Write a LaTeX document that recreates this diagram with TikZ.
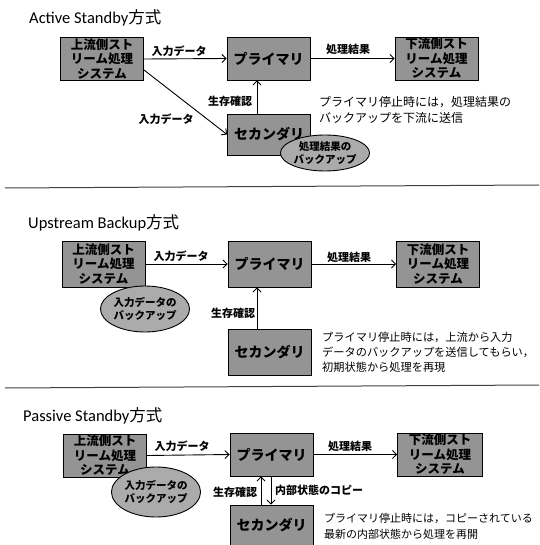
\documentclass[tikz,border=0pt]{standalone}
\usepackage{fontspec}
\setmainfont{Carlito}
\newfontfamily\jp{Noto Sans CJK JP}
\usetikzlibrary{arrows.meta,shapes.geometric}
\begin{document}
\begin{tikzpicture}[x=1pt,y=-1pt,
  box/.style={draw=black,line width=0.9pt,fill=black!42,inner sep=0pt,align=center,
    minimum width=83pt,minimum height=43pt,font=\jp\bfseries\fontsize{12.5}{14.5}\selectfont},
  pbox/.style={box,font=\jp\bfseries\fontsize{14}{16}\selectfont},
  bk/.style={draw=black,line width=0.9pt,fill=black!33,ellipse,inner sep=0pt,align=center,
    font=\jp\bfseries\fontsize{10.5}{13}\selectfont},
  lbl/.style={font=\jp\bfseries\fontsize{11}{13}\selectfont,inner sep=0pt},
  note/.style={inner sep=0pt,align=left,anchor=west},
  ttl/.style={font=\fontsize{16.5}{19}\selectfont,inner sep=0pt,anchor=west},
  arr/.style={line width=0.9pt,-{Straight Barb[length=4pt,width=8pt]}},
  sep/.style={line width=1pt,draw=black!75}]
\useasboundingbox (0,0) rectangle (539,545);

% ---------- Active Standby ----------
\node[ttl] (t1) at (29,18) {Active Standby{\jp 方式}};
\node[box] (up1) at (102,59) {上流側スト\\リーム処理\\システム};
\node[pbox] (pr1) at (268.5,58.5) {プライマリ};
\node[box] (dn1) at (436.5,58.5) {下流側スト\\リーム処理\\システム};
\node[pbox,minimum height=41pt] (se1) at (269,134.5) {セカンダリ};
\node[bk,minimum width=84pt,minimum height=36pt] (e1) at (325,153) {処理結果の\\バックアップ};
\draw[arr] (up1.east) -- (pr1.west);
\draw[arr] ([yshift=-11pt]up1.east) -- (se1.west);
\draw[arr] ([xshift=-12pt]se1.north) -- ([xshift=-11.5pt]pr1.south);
\draw[arr] (pr1.east) -- (dn1.west);
\node[lbl] (l11) at (179,51) {入力データ};
\node[lbl] (l12) at (166,119) {入力データ};
\node[lbl] (l13) at (230,101) {生存確認};
\node[lbl] (l14) at (348,49) {処理結果};
\node[note,font=\jp\fontsize{12}{16}\selectfont] (n1) at (319,110) {プライマリ停止時には，処理結果の\\バックアップを下流に送信};

\coordinate (s1a) at (5,188);
\coordinate (s1b) at (539,185);
\draw[sep] (s1a) -- (s1b);

% ---------- Upstream Backup ----------
\node[ttl] (t2) at (28,223) {Upstream Backup{\jp 方式}};
\node[box,minimum height=46pt] (up2) at (103.5,264) {上流側スト\\リーム処理\\システム};
\node[pbox,minimum height=46pt] (pr2) at (269.5,264) {プライマリ};
\node[box,minimum height=46pt] (dn2) at (438,264) {下流側スト\\リーム処理\\システム};
\node[pbox,minimum height=46pt] (se2) at (269.5,352) {セカンダリ};
\node[bk,minimum width=80pt,minimum height=46pt] (e2) at (145,309) {入力データの\\バックアップ};
\draw[arr] (up2.east) -- (pr2.west);
\draw[arr] ([xshift=-12.5pt]se2.north) -- ([xshift=-12.5pt]pr2.south);
\draw[arr] (pr2.east) -- (dn2.west);
\node[lbl] (l21) at (181,256) {入力データ};
\node[lbl] (l22) at (233,313) {生存確認};
\node[lbl] (l23) at (349,257) {処理結果};
\node[note,font=\jp\fontsize{11.2}{15}\selectfont] (n2) at (322,352) {プライマリ停止時には，上流から入力\\データのバックアップを送信してもらい，\\初期状態から処理を再現};

\coordinate (s2a) at (5,388);
\coordinate (s2b) at (539,385);
\draw[sep] (s2a) -- (s2b);

% ---------- Passive Standby ----------
\node[ttl] (t3) at (23,416) {Passive Standby{\jp 方式}};
\node[box] (up3) at (105,455.5) {上流側スト\\リーム処理\\システム};
\node[pbox] (pr3) at (271.5,454.5) {プライマリ};
\node[box,minimum width=85pt] (dn3) at (440,454.5) {下流側スト\\リーム処理\\システム};
\node[pbox,minimum height=40pt] (se3) at (271.5,525) {セカンダリ};
\node[bk,minimum width=78pt,minimum height=50pt] (e3) at (156,492) {入力データの\\バックアップ};
\draw[arr] (up3.east) -- (pr3.west);
\draw[arr] (pr3.east) -- (dn3.west);
\draw[arr] ([xshift=-10.5pt]se3.north) -- ([xshift=-10.5pt]pr3.south);
\draw[arr] ([xshift=-0.5pt]pr3.south) -- ([xshift=-0.5pt]se3.north);
\node[lbl] (l31) at (182,446) {入力データ};
\node[lbl] (l32) at (350,446) {処理結果};
\node[lbl] (l33) at (235,492) {生存確認};
\node[lbl,anchor=west] (l34) at (275,490) {内部状態のコピー};
\node[note,font=\jp\fontsize{11}{16}\selectfont] (n3) at (324,526.5) {プライマリ停止時には，コピーされている\\最新の内部状態から処理を再開};
\end{tikzpicture}
\end{document}
